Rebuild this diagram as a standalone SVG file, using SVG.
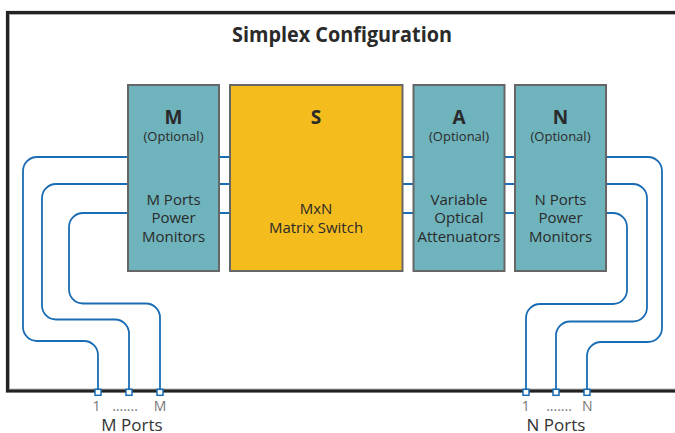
<svg xmlns="http://www.w3.org/2000/svg" width="675" height="433" viewBox="0 0 675 433">
<style>
.box{stroke:#666;stroke-width:2}
.teal{fill:#6fb3bc}
.yel{fill:#f5bc1e}
.wire{fill:none;stroke:#1a6db4;stroke-width:1.8}
.port{fill:#fff;stroke:#1a6db4;stroke-width:1.5}
.t{font-family:"Open Sans","Liberation Sans",sans-serif;fill:#2a2a2a;text-anchor:middle}
.big{font-size:19px;font-weight:bold}
.opt{font-size:13px}
.body{font-size:15px}
.small{font-size:14px;fill:#777}
.lab{font-size:17px;fill:#333}
</style>
<rect x="0" y="0" width="675" height="433" fill="#fff"/>
<g id="frame">
<rect x="9.5" y="14.5" width="700" height="374.5" fill="none" stroke="#bbb" stroke-width="1"/>
<rect x="7.5" y="12.5" width="700" height="378.5" fill="none" stroke="#222" stroke-width="3.2"/>
</g>
<text class="t" x="342" y="42" style="font-size:21px;font-weight:bold" textLength="220" lengthAdjust="spacingAndGlyphs">Simplex Configuration</text>
<g id="connectors">
<path class="wire" d="M128,157H606M128,184H606M128,213H606"/>
<path class="wire" d="M98,390V355A14,14 0 0 0 84,341H37A14,14 0 0 1 23,327V171A14,14 0 0 1 37,157H128"/>
<path class="wire" d="M129,390V333.5A14,14 0 0 0 115,319.5H56A14,14 0 0 1 42,305.5V198A14,14 0 0 1 56,184H128"/>
<path class="wire" d="M160,390V317.5A14,14 0 0 0 146,303.5H83A14,14 0 0 1 69,289.5V227A14,14 0 0 1 83,213H128"/>
<path class="wire" d="M606,157H648A14,14 0 0 1 662,171V328A14,14 0 0 1 648,342H601A14,14 0 0 0 587,356V390"/>
<path class="wire" d="M606,184H633A14,14 0 0 1 647,198V307.5A14,14 0 0 1 633,321.5H570A14,14 0 0 0 556,335.5V390"/>
<path class="wire" d="M606,213H613A14,14 0 0 1 627,227V290A14,14 0 0 1 613,304H540A14,14 0 0 0 526,318V390"/>
</g>
<g id="ports">
<rect class="port" x="95" y="389.3" width="6" height="6"/>
<rect class="port" x="126" y="389.3" width="6" height="6"/>
<rect class="port" x="157" y="389.3" width="6" height="6"/>
<rect class="port" x="523" y="389.3" width="6" height="6"/>
<rect class="port" x="553" y="389.3" width="6" height="6"/>
<rect class="port" x="584" y="389.3" width="6" height="6"/>
<text class="t small" x="96.5" y="411">1</text>
<text class="t small" x="125" y="411">.......</text>
<text class="t small" x="160" y="411">M</text>
<text class="t small" x="525.7" y="411">1</text>
<text class="t small" x="559" y="411">.......</text>
<text class="t small" x="587.3" y="411">N</text>
<text class="t lab" x="132" y="431">M Ports</text>
<text class="t lab" x="556" y="431">N Ports</text>
</g>
<g id="node-M">
<rect class="box teal" x="128" y="85" width="91" height="186"/>
<text class="t big" x="173.5" y="124">M</text>
<text class="t opt" x="173.5" y="140.5">(Optional)</text>
<text class="t body" x="173.5" y="204.5">M Ports</text>
<text class="t body" x="173.5" y="223">Power</text>
<text class="t body" x="173.5" y="241.5">Monitors</text>
</g>
<g id="node-S">
<rect class="box yel" x="230" y="85" width="172.5" height="186"/>
<text class="t big" x="316" y="124">S</text>
<text class="t body" x="316" y="213.5">MxN</text>
<text class="t body" x="316" y="232.5">Matrix Switch</text>
</g>
<g id="node-A">
<rect class="box teal" x="413.5" y="85" width="91" height="186"/>
<text class="t big" x="459" y="124">A</text>
<text class="t opt" x="459" y="140.5">(Optional)</text>
<text class="t body" x="459" y="204.5">Variable</text>
<text class="t body" x="459" y="223">Optical</text>
<text class="t body" x="459" y="241.5">Attenuators</text>
</g>
<g id="node-N">
<rect class="box teal" x="515" y="85" width="91" height="186"/>
<text class="t big" x="560.5" y="124">N</text>
<text class="t opt" x="560.5" y="140.5">(Optional)</text>
<text class="t body" x="560.5" y="204.5">N Ports</text>
<text class="t body" x="560.5" y="223">Power</text>
<text class="t body" x="560.5" y="241.5">Monitors</text>
</g>
</svg>
